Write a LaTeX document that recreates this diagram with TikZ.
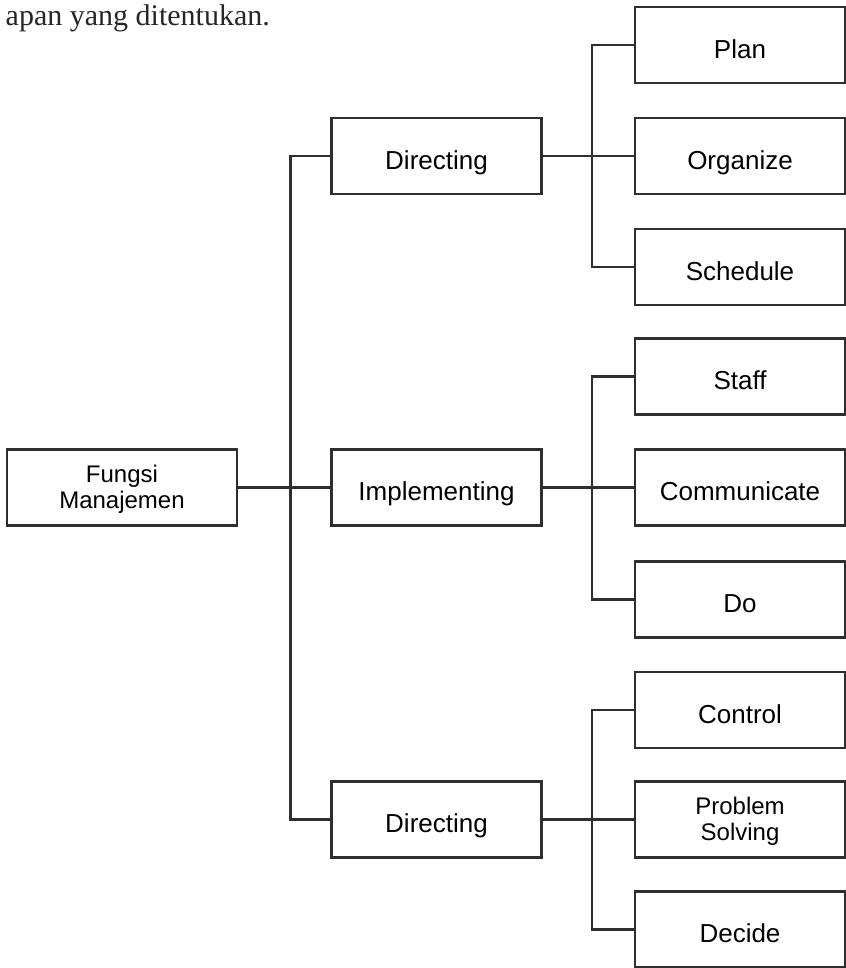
\documentclass[tikz,border=0pt]{standalone}
\usepackage{fontspec}
\setmainfont{Liberation Serif}
\newfontfamily\boxfont{Liberation Sans}
\definecolor{ink}{HTML}{2E2E2E}
\begin{document}
\begin{tikzpicture}[x=0.75pt,y=-0.75pt,
  box/.style={draw=ink, line width=1.6pt, fill=white, inner sep=0pt,
    minimum width=157.5pt, minimum height=57pt, align=center,
    text height=20pt, text depth=0pt,
    font=\boxfont\fontsize{19.5}{22}\selectfont, text=black},
  smallbox/.style={box, text height=31.5pt, text depth=0pt,
    font=\boxfont\fontsize{18}{19.5}\selectfont},
  link/.style={draw=ink, line width=1.6pt}]
\useasboundingbox (0,0) rectangle (846,968);
\node[anchor=base west, font=\fontsize{22.5}{26}\selectfont, text=black!85] (cap) at (1,25) {apan yang ditentukan.};
% root
\node[smallbox, minimum width=172.5pt] (F) at (122,487.5) {Fungsi\\Manajemen};
% middle column
\node[box] (D1) at (436.5,156) {Directing};
\node[box] (I) at (436.5,487.5) {Implementing};
\node[box] (D2) at (436.5,819.5) {Directing};
% right column
\node[box] (P) at (740,45) {Plan};
\node[box] (O) at (740,156) {Organize};
\node[box] (S) at (740,267) {Schedule};
\node[box] (St) at (740,376.5) {Staff};
\node[box] (C) at (740,487.5) {Communicate};
\node[box] (Do) at (740,599.5) {Do};
\node[box] (Ct) at (740,710) {Control};
\node[smallbox] (PS) at (740,819.5) {Problem\\Solving};
\node[box] (De) at (740,929.5) {Decide};
% connectors from root
\draw[link] (F.east) -- (I.west);
\draw[link] (D1.west) -- ++(-40,0) |- (D2.west);
% group 1
\draw[link] (D1.east) -- (O.west);
\draw[link] (P.west) -- ++(-42,0) |- (S.west);
% group 2
\draw[link] (I.east) -- (C.west);
\draw[link] (St.west) -- ++(-42,0) |- (Do.west);
% group 3
\draw[link] (D2.east) -- (PS.west);
\draw[link] (Ct.west) -- ++(-42,0) |- (De.west);
\end{tikzpicture}
\end{document}
